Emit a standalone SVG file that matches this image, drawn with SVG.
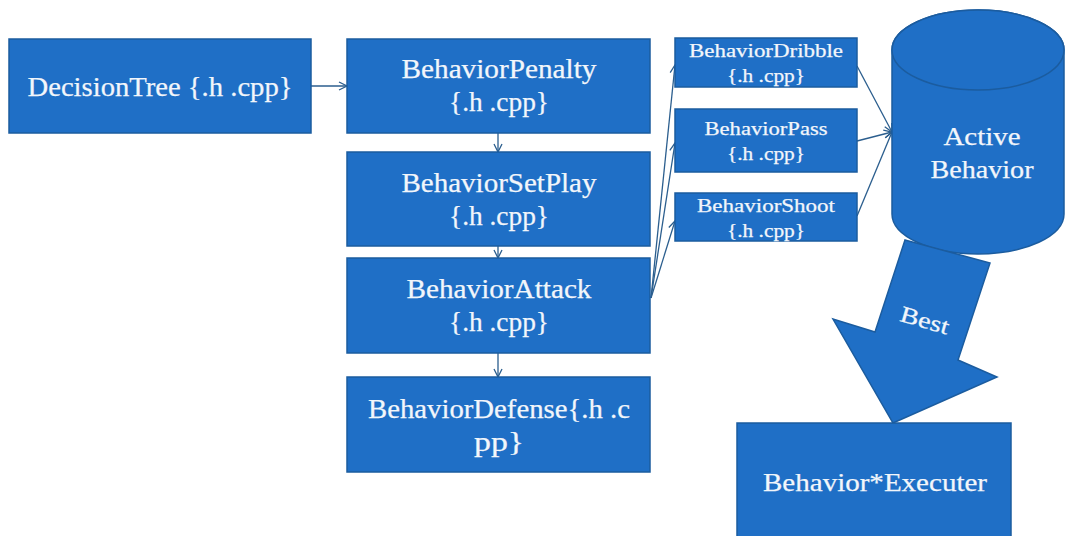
<svg xmlns="http://www.w3.org/2000/svg" width="1065" height="536" viewBox="0 0 1065 536">
  <style>
    .box { fill: #1f6fc6; stroke: #1b5c9f; stroke-width: 1.5; }
    .lbl { fill: #f2f6fb; stroke: #f2f6fb; stroke-width: 0.25; font-family: "Liberation Serif", "DejaVu Serif", serif; text-anchor: middle; }
    .big { font-size: 27px; }
    .small { font-size: 19px; }
    .conn { fill: none; stroke: #2b5e8e; stroke-width: 1.3; }
  </style>
  <defs>
    <marker id="arr" viewBox="0 0 10 10" refX="9" refY="5" markerWidth="10" markerHeight="10" markerUnits="userSpaceOnUse" orient="auto">
      <path d="M1,1 L9,5 L1,9" fill="none" stroke="#2b5e8e" stroke-width="1.3"/>
    </marker>
  </defs>
  <rect width="1065" height="536" fill="#ffffff"/>

  <!-- connectors -->
  <g id="connectors">
    <line class="conn" x1="311" y1="86" x2="347" y2="86" marker-end="url(#arr)"/>
    <line class="conn" x1="498" y1="133" x2="498" y2="152" marker-end="url(#arr)"/>
    <line class="conn" x1="498" y1="246" x2="498" y2="258" marker-end="url(#arr)"/>
    <line class="conn" x1="498" y1="353" x2="498" y2="377" marker-end="url(#arr)"/>
    <line class="conn" x1="651" y1="298" x2="675" y2="65" marker-end="url(#arr)"/>
    <line class="conn" x1="651" y1="298" x2="675" y2="143" marker-end="url(#arr)"/>
    <line class="conn" x1="651" y1="298" x2="675" y2="221" marker-end="url(#arr)"/>
    <line class="conn" x1="857" y1="66" x2="892" y2="132" marker-end="url(#arr)"/>
    <line class="conn" x1="857" y1="141" x2="892" y2="132" marker-end="url(#arr)"/>
    <line class="conn" x1="857" y1="216" x2="892" y2="132" marker-end="url(#arr)"/>
  </g>

  <g id="decisionTree">
    <rect class="box" x="9" y="39" width="302" height="94"/>
    <text class="lbl big" x="160" y="96" textLength="265" lengthAdjust="spacingAndGlyphs">DecisionTree {.h .cpp}</text>
  </g>

  <g id="behaviorPenalty">
    <rect class="box" x="347" y="39" width="303" height="94"/>
    <text class="lbl big" x="499" y="78" textLength="195" lengthAdjust="spacingAndGlyphs">BehaviorPenalty</text>
    <text class="lbl big" x="499" y="111" textLength="100" lengthAdjust="spacingAndGlyphs">{.h .cpp}</text>
  </g>

  <g id="behaviorSetPlay">
    <rect class="box" x="347" y="152" width="303" height="94"/>
    <text class="lbl big" x="499" y="192" textLength="195" lengthAdjust="spacingAndGlyphs">BehaviorSetPlay</text>
    <text class="lbl big" x="499" y="225" textLength="100" lengthAdjust="spacingAndGlyphs">{.h .cpp}</text>
  </g>

  <g id="behaviorAttack">
    <rect class="box" x="347" y="258" width="303" height="95"/>
    <text class="lbl big" x="499" y="298" textLength="185" lengthAdjust="spacingAndGlyphs">BehaviorAttack</text>
    <text class="lbl big" x="499" y="331" textLength="100" lengthAdjust="spacingAndGlyphs">{.h .cpp}</text>
  </g>

  <g id="behaviorDefense">
    <rect class="box" x="347" y="377" width="303" height="95"/>
    <text class="lbl big" x="499" y="418" textLength="262" lengthAdjust="spacingAndGlyphs">BehaviorDefense{.h .c</text>
    <text class="lbl big" x="499" y="451" textLength="50" lengthAdjust="spacingAndGlyphs">pp}</text>
  </g>

  <g id="behaviorDribble">
    <rect class="box" x="675" y="38" width="182" height="49"/>
    <text class="lbl small" x="766" y="57" textLength="154" lengthAdjust="spacingAndGlyphs">BehaviorDribble</text>
    <text class="lbl small" x="766" y="82" textLength="78" lengthAdjust="spacingAndGlyphs">{.h .cpp}</text>
  </g>

  <g id="behaviorPass">
    <rect class="box" x="675" y="109" width="182" height="63"/>
    <text class="lbl small" x="766" y="135" textLength="123" lengthAdjust="spacingAndGlyphs">BehaviorPass</text>
    <text class="lbl small" x="766" y="160" textLength="78" lengthAdjust="spacingAndGlyphs">{.h .cpp}</text>
  </g>

  <g id="behaviorShoot">
    <rect class="box" x="675" y="193" width="182" height="48"/>
    <text class="lbl small" x="766" y="212" textLength="138" lengthAdjust="spacingAndGlyphs">BehaviorShoot</text>
    <text class="lbl small" x="766" y="237" textLength="78" lengthAdjust="spacingAndGlyphs">{.h .cpp}</text>
  </g>

  <g id="activeBehavior">
    <path class="box" d="M892,50 A86,40 0 0 1 1064,50 L1064,214 A86,40 0 0 1 892,214 Z"/>
    <ellipse class="box" cx="978" cy="50" rx="86" ry="40"/>
    <text class="lbl" x="982" y="145" font-size="26" textLength="77" lengthAdjust="spacingAndGlyphs">Active</text>
    <text class="lbl" x="982" y="178" font-size="26" textLength="103" lengthAdjust="spacingAndGlyphs">Behavior</text>
  </g>

  <g id="bestArrow">
    <path class="box" d="M905,240 L990,263 L958,360 L997,377 L893,423 L833,319 L875,332 Z"/>
    <text class="lbl" x="925" y="328" font-size="23" textLength="50" lengthAdjust="spacingAndGlyphs" transform="rotate(16 925 320)">Best</text>
  </g>

  <g id="behaviorExecuter">
    <rect class="box" x="737" y="423" width="274" height="120"/>
    <text class="lbl" x="875" y="491" font-size="26" textLength="224" lengthAdjust="spacingAndGlyphs">Behavior*Executer</text>
  </g>
</svg>
